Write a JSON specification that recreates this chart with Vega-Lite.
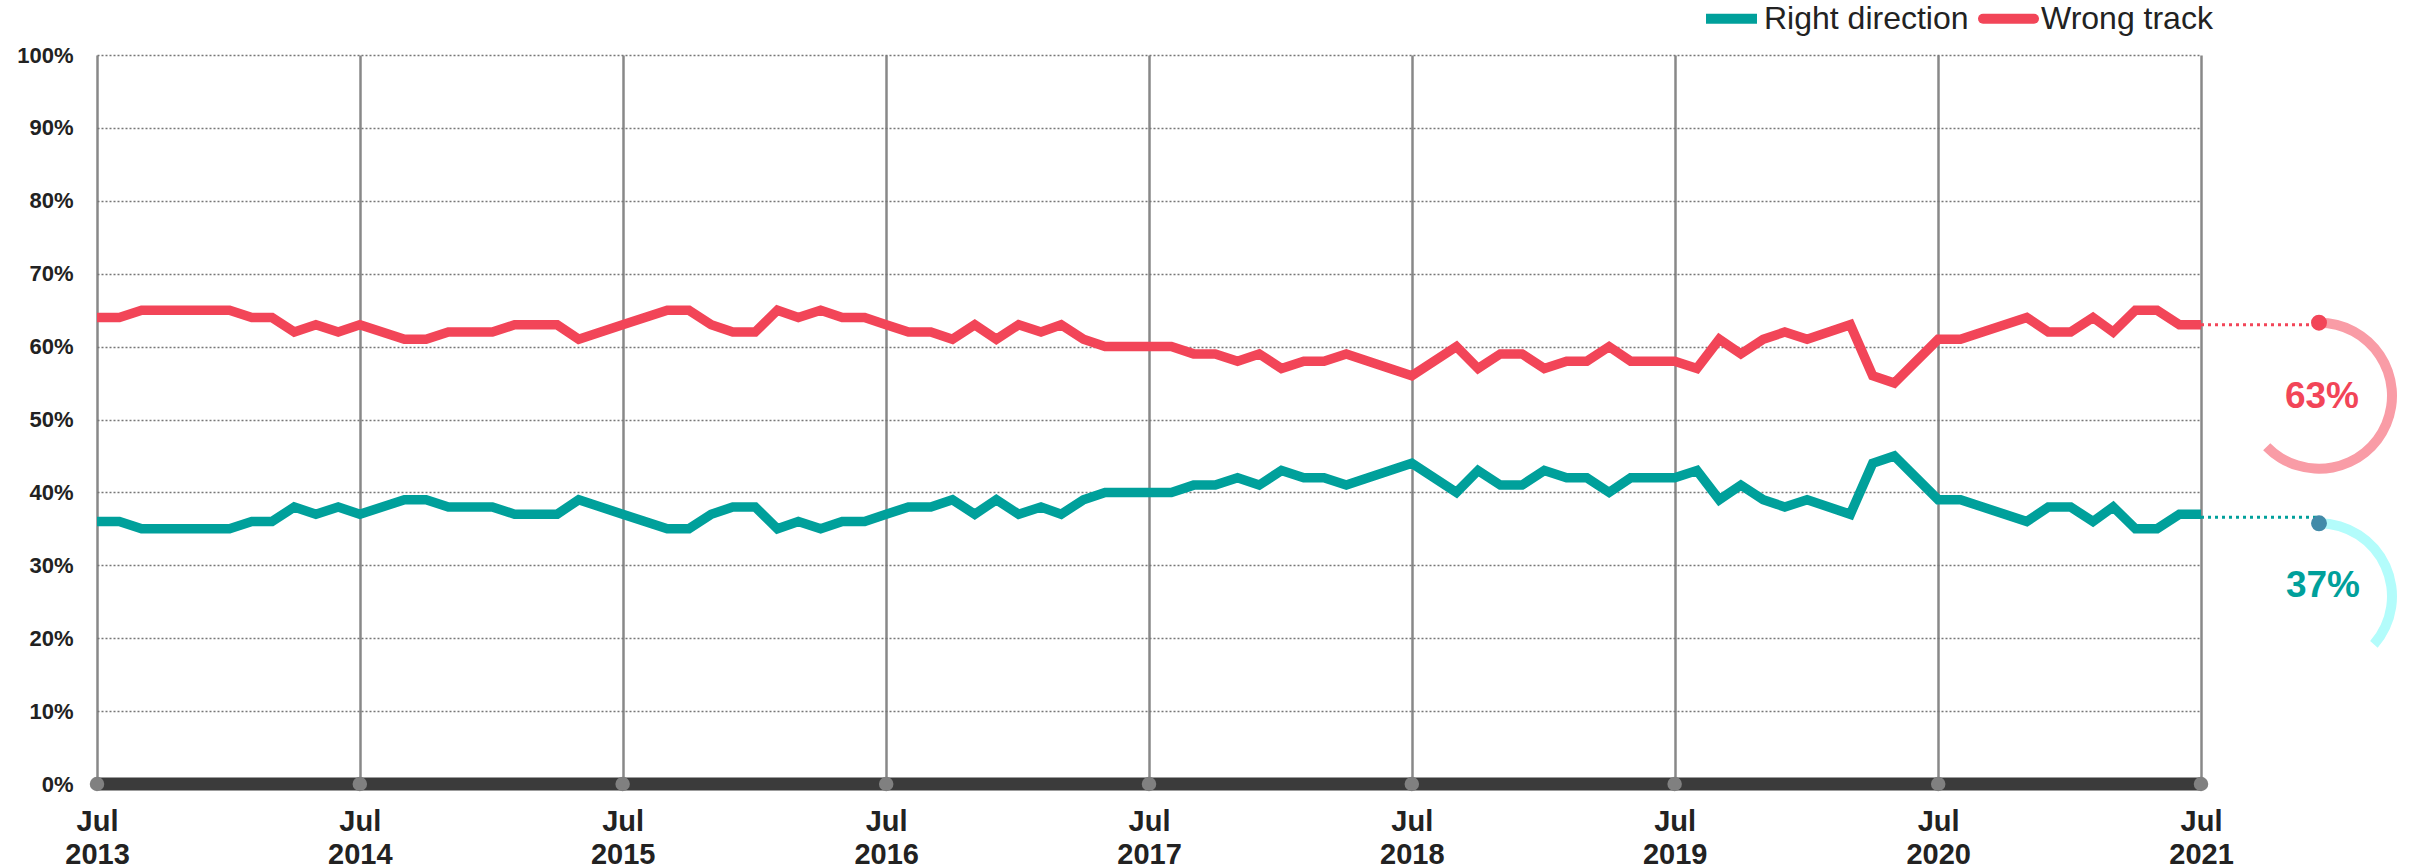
{
  "$schema": "https://vega.github.io/schema/vega-lite/v6.json",
  "width": 2104,
  "height": 729,
  "autosize": {"type": "none"},
  "padding": {"left": 97, "top": 55, "right": 209, "bottom": 84},
  "background": "white",
  "config": {"view": {"stroke": null}, "font": "Liberation Sans"},
  "datasets": {
    "polls": [
      {"date": "2013-07-01", "Right direction": 36, "Wrong track": 64},
      {"date": "2013-08-01", "Right direction": 36, "Wrong track": 64},
      {"date": "2013-09-01", "Right direction": 35, "Wrong track": 65},
      {"date": "2013-10-01", "Right direction": 35, "Wrong track": 65},
      {"date": "2013-11-01", "Right direction": 35, "Wrong track": 65},
      {"date": "2013-12-01", "Right direction": 35, "Wrong track": 65},
      {"date": "2014-01-01", "Right direction": 35, "Wrong track": 65},
      {"date": "2014-02-01", "Right direction": 36, "Wrong track": 64},
      {"date": "2014-03-01", "Right direction": 36, "Wrong track": 64},
      {"date": "2014-04-01", "Right direction": 38, "Wrong track": 62},
      {"date": "2014-05-01", "Right direction": 37, "Wrong track": 63},
      {"date": "2014-06-01", "Right direction": 38, "Wrong track": 62},
      {"date": "2014-07-01", "Right direction": 37, "Wrong track": 63},
      {"date": "2014-09-01", "Right direction": 39, "Wrong track": 61},
      {"date": "2014-10-01", "Right direction": 39, "Wrong track": 61},
      {"date": "2014-11-01", "Right direction": 38, "Wrong track": 62},
      {"date": "2014-12-01", "Right direction": 38, "Wrong track": 62},
      {"date": "2015-01-01", "Right direction": 38, "Wrong track": 62},
      {"date": "2015-02-01", "Right direction": 37, "Wrong track": 63},
      {"date": "2015-03-01", "Right direction": 37, "Wrong track": 63},
      {"date": "2015-04-01", "Right direction": 37, "Wrong track": 63},
      {"date": "2015-05-01", "Right direction": 39, "Wrong track": 61},
      {"date": "2015-07-01", "Right direction": 37, "Wrong track": 63},
      {"date": "2015-09-01", "Right direction": 35, "Wrong track": 65},
      {"date": "2015-10-01", "Right direction": 35, "Wrong track": 65},
      {"date": "2015-11-01", "Right direction": 37, "Wrong track": 63},
      {"date": "2015-12-01", "Right direction": 38, "Wrong track": 62},
      {"date": "2016-01-01", "Right direction": 38, "Wrong track": 62},
      {"date": "2016-02-01", "Right direction": 35, "Wrong track": 65},
      {"date": "2016-03-01", "Right direction": 36, "Wrong track": 64},
      {"date": "2016-04-01", "Right direction": 35, "Wrong track": 65},
      {"date": "2016-05-01", "Right direction": 36, "Wrong track": 64},
      {"date": "2016-06-01", "Right direction": 36, "Wrong track": 64},
      {"date": "2016-07-01", "Right direction": 37, "Wrong track": 63},
      {"date": "2016-08-01", "Right direction": 38, "Wrong track": 62},
      {"date": "2016-09-01", "Right direction": 38, "Wrong track": 62},
      {"date": "2016-10-01", "Right direction": 39, "Wrong track": 61},
      {"date": "2016-11-01", "Right direction": 37, "Wrong track": 63},
      {"date": "2016-12-01", "Right direction": 39, "Wrong track": 61},
      {"date": "2017-01-01", "Right direction": 37, "Wrong track": 63},
      {"date": "2017-02-01", "Right direction": 38, "Wrong track": 62},
      {"date": "2017-03-01", "Right direction": 37, "Wrong track": 63},
      {"date": "2017-04-01", "Right direction": 39, "Wrong track": 61},
      {"date": "2017-05-01", "Right direction": 40, "Wrong track": 60},
      {"date": "2017-06-01", "Right direction": 40, "Wrong track": 60},
      {"date": "2017-07-01", "Right direction": 40, "Wrong track": 60},
      {"date": "2017-08-01", "Right direction": 40, "Wrong track": 60},
      {"date": "2017-09-01", "Right direction": 41, "Wrong track": 59},
      {"date": "2017-10-01", "Right direction": 41, "Wrong track": 59},
      {"date": "2017-11-01", "Right direction": 42, "Wrong track": 58},
      {"date": "2017-12-01", "Right direction": 41, "Wrong track": 59},
      {"date": "2018-01-01", "Right direction": 43, "Wrong track": 57},
      {"date": "2018-02-01", "Right direction": 42, "Wrong track": 58},
      {"date": "2018-03-01", "Right direction": 42, "Wrong track": 58},
      {"date": "2018-04-01", "Right direction": 41, "Wrong track": 59},
      {"date": "2018-07-01", "Right direction": 44, "Wrong track": 56},
      {"date": "2018-09-01", "Right direction": 40, "Wrong track": 60},
      {"date": "2018-10-01", "Right direction": 43, "Wrong track": 57},
      {"date": "2018-11-01", "Right direction": 41, "Wrong track": 59},
      {"date": "2018-12-01", "Right direction": 41, "Wrong track": 59},
      {"date": "2019-01-01", "Right direction": 43, "Wrong track": 57},
      {"date": "2019-02-01", "Right direction": 42, "Wrong track": 58},
      {"date": "2019-03-01", "Right direction": 42, "Wrong track": 58},
      {"date": "2019-04-01", "Right direction": 40, "Wrong track": 60},
      {"date": "2019-05-01", "Right direction": 42, "Wrong track": 58},
      {"date": "2019-06-01", "Right direction": 42, "Wrong track": 58},
      {"date": "2019-07-01", "Right direction": 42, "Wrong track": 58},
      {"date": "2019-08-01", "Right direction": 43, "Wrong track": 57},
      {"date": "2019-09-01", "Right direction": 39, "Wrong track": 61},
      {"date": "2019-10-01", "Right direction": 41, "Wrong track": 59},
      {"date": "2019-11-01", "Right direction": 39, "Wrong track": 61},
      {"date": "2019-12-01", "Right direction": 38, "Wrong track": 62},
      {"date": "2020-01-01", "Right direction": 39, "Wrong track": 61},
      {"date": "2020-03-01", "Right direction": 37, "Wrong track": 63},
      {"date": "2020-04-01", "Right direction": 44, "Wrong track": 56},
      {"date": "2020-05-01", "Right direction": 45, "Wrong track": 55},
      {"date": "2020-07-01", "Right direction": 39, "Wrong track": 61},
      {"date": "2020-08-01", "Right direction": 39, "Wrong track": 61},
      {"date": "2020-11-01", "Right direction": 36, "Wrong track": 64},
      {"date": "2020-12-01", "Right direction": 38, "Wrong track": 62},
      {"date": "2021-01-01", "Right direction": 38, "Wrong track": 62},
      {"date": "2021-02-01", "Right direction": 36, "Wrong track": 64},
      {"date": "2021-03-01", "Right direction": 38, "Wrong track": 62},
      {"date": "2021-04-01", "Right direction": 35, "Wrong track": 65},
      {"date": "2021-05-01", "Right direction": 35, "Wrong track": 65},
      {"date": "2021-06-01", "Right direction": 37, "Wrong track": 63},
      {"date": "2021-07-01", "Right direction": 37, "Wrong track": 63}
    ],
    "ends": [
      {"date": "2021-07-01", "series": "Wrong track", "value": 63, "label": "63%"},
      {"date": "2021-07-01", "series": "Right direction", "value": 37, "label": "37%"}
    ],
    "ticks": [
      {"date": "2013-07-01"}, {"date": "2014-07-01"}, {"date": "2015-07-01"},
      {"date": "2016-07-01"}, {"date": "2017-07-01"}, {"date": "2018-07-01"},
      {"date": "2019-07-01"}, {"date": "2020-07-01"}, {"date": "2021-07-01"}
    ],
    "baseline": [{"value": 0}]
  },
  "layer": [
    {
      "data": {"name": "polls"},
      "transform": [{"fold": ["Right direction", "Wrong track"], "as": ["series", "value"]}],
      "mark": {"type": "line", "strokeWidth": 9.5, "strokeCap": "butt"},
      "encoding": {
        "x": {
          "field": "date", "type": "temporal",
          "scale": {"type": "utc", "domain": [{"year": 2013, "month": 7, "date": 1, "utc": true}, {"year": 2021, "month": 7, "date": 1, "utc": true}]},
          "axis": {
            "title": null,
            "values": [
              {"year": 2013, "month": 7, "date": 1, "utc": true},
              {"year": 2014, "month": 7, "date": 1, "utc": true},
              {"year": 2015, "month": 7, "date": 1, "utc": true},
              {"year": 2016, "month": 7, "date": 1, "utc": true},
              {"year": 2017, "month": 7, "date": 1, "utc": true},
              {"year": 2018, "month": 7, "date": 1, "utc": true},
              {"year": 2019, "month": 7, "date": 1, "utc": true},
              {"year": 2020, "month": 7, "date": 1, "utc": true},
              {"year": 2021, "month": 7, "date": 1, "utc": true}
            ],
            "labelExpr": "['Jul', utcFormat(datum.value, '%Y')]",
            "labelFont": "Liberation Sans",
            "labelFontWeight": "bold",
            "labelFontSize": 29,
            "labelColor": "#222222",
            "labelLineHeight": 33,
            "labelPadding": 23,
            "labelBaseline": "top",
            "labelAlign": "center",
            "labelFlush": false,
            "labelOverlap": false,
            "labelBound": false,
            "ticks": false,
            "domain": false,
            "grid": true,
            "gridColor": "#888888",
            "gridWidth": 2.5
          }
        },
        "y": {
          "field": "value", "type": "quantitative",
          "scale": {"domain": [0, 100]},
          "axis": {
            "title": null,
            "values": [0, 10, 20, 30, 40, 50, 60, 70, 80, 90, 100],
            "labelExpr": "datum.value + '%'",
            "labelFont": "Liberation Sans",
            "labelFontWeight": "bold",
            "labelFontSize": 22,
            "labelColor": "#222222",
            "labelPadding": 24,
            "ticks": false,
            "domain": false,
            "grid": true,
            "gridColor": "#777777",
            "gridDash": [2, 2],
            "gridWidth": 1.5
          }
        },
        "color": {
          "field": "series", "type": "nominal",
          "scale": {"domain": ["Right direction", "Wrong track"], "range": ["#00a09b", "#f24558"]},
          "legend": {
            "title": null,
            "orient": "none",
            "legendX": 1604,
            "legendY": -67,
            "direction": "horizontal",
            "symbolType": "stroke",
            "symbolSize": 2601,
            "symbolStrokeWidth": 10,
            "labelFont": "Liberation Sans",
            "labelFontSize": 32,
            "labelColor": "#222222",
            "labelOffset": 2,
            "labelLimit": 400,
            "columnPadding": -6,
            "padding": 0,
            "encode": {
              "symbols": {"update": {"strokeCap": {"signal": "datum.value === 'Wrong track' ? 'round' : 'butt'"}}}
            }
          }
        }
      }
    },
    {
      "data": {"name": "baseline"},
      "mark": {"type": "rule", "strokeWidth": 13, "color": "#3b3b3b"},
      "encoding": {"y": {"field": "value", "type": "quantitative", "axis": {"title": null}}}
    },
    {
      "data": {"name": "ticks"},
      "mark": {"type": "point", "filled": true, "size": 210, "color": "#808080", "opacity": 1},
      "encoding": {
        "x": {"field": "date", "type": "temporal", "axis": {"title": null}},
        "y": {"datum": 0, "type": "quantitative"}
      }
    },
    {
      "data": {"name": "ends"},
      "transform": [{"filter": "datum.series === 'Wrong track'"}],
      "mark": {"type": "rule", "strokeWidth": 3, "strokeDash": [3, 4], "color": "#f24558", "x2Offset": 118},
      "encoding": {
        "x": {"field": "date", "type": "temporal", "axis": {"title": null}},
        "x2": {"field": "date"},
        "y": {"field": "value", "type": "quantitative", "axis": {"title": null}}
      }
    },
    {
      "data": {"name": "ends"},
      "transform": [{"filter": "datum.series === 'Right direction'"}],
      "mark": {"type": "rule", "strokeWidth": 3, "strokeDash": [3, 4], "color": "#00a09b", "x2Offset": 118, "yOffset": 3},
      "encoding": {
        "x": {"field": "date", "type": "temporal", "axis": {"title": null}},
        "x2": {"field": "date"},
        "y": {"field": "value", "type": "quantitative", "axis": {"title": null}}
      }
    },
    {
      "data": {"name": "ends"},
      "transform": [{"filter": "datum.series === 'Wrong track'"}],
      "mark": {"type": "arc", "theta": 0, "theta2": 3.94, "innerRadius": 68, "outerRadius": 78, "color": "#f99ca6", "xOffset": 118, "yOffset": 71},
      "encoding": {
        "x": {"field": "date", "type": "temporal", "axis": {"title": null}},
        "y": {"field": "value", "type": "quantitative", "axis": {"title": null}}
      }
    },
    {
      "data": {"name": "ends"},
      "transform": [{"filter": "datum.series === 'Right direction'"}],
      "mark": {"type": "arc", "theta": 0, "theta2": 2.29, "innerRadius": 68, "outerRadius": 78, "color": "#b3fcfb", "xOffset": 118, "yOffset": 82},
      "encoding": {
        "x": {"field": "date", "type": "temporal", "axis": {"title": null}},
        "y": {"field": "value", "type": "quantitative", "axis": {"title": null}}
      }
    },
    {
      "data": {"name": "ends"},
      "transform": [{"filter": "datum.series === 'Wrong track'"}],
      "mark": {"type": "point", "filled": true, "size": 254, "color": "#f24558", "opacity": 1, "xOffset": 118, "yOffset": -2},
      "encoding": {
        "x": {"field": "date", "type": "temporal", "axis": {"title": null}},
        "y": {"field": "value", "type": "quantitative", "axis": {"title": null}}
      }
    },
    {
      "data": {"name": "ends"},
      "transform": [{"filter": "datum.series === 'Right direction'"}],
      "mark": {"type": "point", "filled": true, "size": 254, "color": "#428ba9", "opacity": 1, "xOffset": 118, "yOffset": 9},
      "encoding": {
        "x": {"field": "date", "type": "temporal", "axis": {"title": null}},
        "y": {"field": "value", "type": "quantitative", "axis": {"title": null}}
      }
    },
    {
      "data": {"name": "ends"},
      "transform": [{"filter": "datum.series === 'Wrong track'"}],
      "mark": {"type": "text", "font": "Liberation Sans", "fontWeight": "bold", "fontSize": 37, "color": "#f24558", "align": "center", "baseline": "middle", "dx": 121, "dy": 72},
      "encoding": {
        "x": {"field": "date", "type": "temporal", "axis": {"title": null}},
        "y": {"field": "value", "type": "quantitative", "axis": {"title": null}},
        "text": {"field": "label"}
      }
    },
    {
      "data": {"name": "ends"},
      "transform": [{"filter": "datum.series === 'Right direction'"}],
      "mark": {"type": "text", "font": "Liberation Sans", "fontWeight": "bold", "fontSize": 37, "color": "#00a09b", "align": "center", "baseline": "middle", "dx": 122, "dy": 72},
      "encoding": {
        "x": {"field": "date", "type": "temporal", "axis": {"title": null}},
        "y": {"field": "value", "type": "quantitative", "axis": {"title": null}},
        "text": {"field": "label"}
      }
    }
  ]
}
